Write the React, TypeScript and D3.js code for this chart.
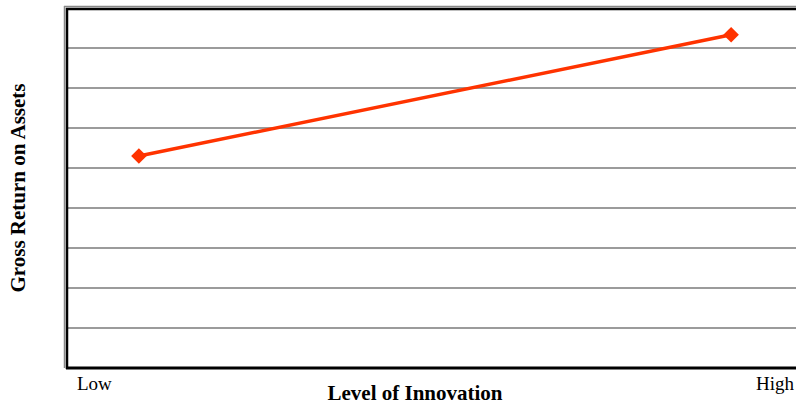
import React from "react";
import * as d3 from "d3";

const categories = ["Low", "High"];
const values = [5.3, 8.33];
const yTicks = [0, 1, 2, 3, 4, 5, 6, 7, 8, 9];
const endLabels = ["Low", "High"];

export default function App() {
  const W = 796, H = 405;
  const left = 67, right = 803, top = 8, bottom = 368;
  const x = d3.scalePoint<string>().domain(categories).range([left, right]).padding(0.1214);
  const y = d3.scaleLinear().domain([0, 9]).range([bottom, top]);
  const line = d3.line<number>().x((_, i) => x(categories[i])!).y((d) => y(d));
  const serif = "'Liberation Serif', 'Times New Roman', serif";
  return (
    <svg width={W} height={H} style={{ position: "absolute", left: 0, top: 0 }}>
      <rect x={0} y={0} width={W} height={H} fill="#fff" />
      {yTicks.slice(1, -1).map((t) => (
        <line key={t} x1={left} x2={W} y1={y(t)} y2={y(t)} stroke="#7a7a7a" strokeWidth={1.6} />
      ))}
      {/* gray outer frame */}
      <line x1={64} x2={W} y1={6.5} y2={6.5} stroke="#888" strokeWidth={1.5} />
      <line x1={64.5} x2={64.5} y1={6} y2={368} stroke="#888" strokeWidth={1.5} />
      {/* black frame */}
      <line x1={66} x2={W} y1={9} y2={9} stroke="#000" strokeWidth={2.5} />
      <line x1={67} x2={67} y1={8} y2={369} stroke="#000" strokeWidth={2.5} />
      <line x1={66} x2={W} y1={y(0)} y2={y(0)} stroke="#000" strokeWidth={3} />
      <path d={line(values) || ""} fill="none" stroke="#ff3300" strokeWidth={3.5} />
      {values.map((v, i) => (
        <rect
          key={i}
          x={-5.5}
          y={-5.5}
          width={11}
          height={11}
          fill="#ff3300"
          transform={`translate(${x(categories[i])},${y(v)}) rotate(45)`}
        />
      ))}
      <text x={77} y={390} fontFamily={serif} fontSize={19}>{endLabels[0]}</text>
      <text x={756} y={390} fontFamily={serif} fontSize={19}>{endLabels[1]}</text>
      <text x={415} y={400} textAnchor="middle" fontFamily={serif} fontSize={21} fontWeight="bold">
        Level of Innovation
      </text>
      <text
        transform={`translate(25,188) rotate(-90)`}
        textAnchor="middle"
        fontFamily={serif}
        fontSize={21}
        fontWeight="bold"
      >
        Gross Return on Assets
      </text>
    </svg>
  );
}
